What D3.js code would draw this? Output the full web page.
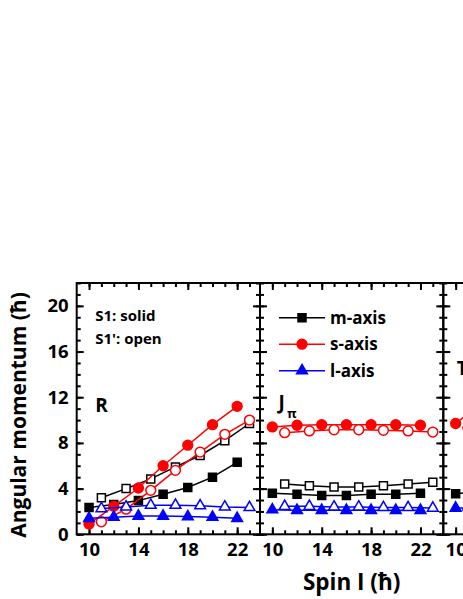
<!DOCTYPE html>
<html>
<head>
<meta charset="utf-8">
<script src="https://cdn.jsdelivr.net/npm/d3@7"></script>
<style>
  body { margin: 0; background: #fff; }
  svg { display: block; font-family: "Open Sans", Lato, sans-serif; font-weight: bold; }
</style>
</head>
<body>
<svg id="chart" width="463" height="599"></svg>
<script>
// spins: solid points sit on even I, open points on odd I
const evenSpins = [10, 12, 14, 16, 18, 20, 22];
const oddSpins = [11, 13, 15, 17, 19, 21, 23];

// panel R
const rMSolid = [2.35, 2.6, 2.95, 3.5, 4.1, 5.0, 6.3];
const rMOpen = [3.2, 4.0, 4.85, 5.9, 6.9, 8.2, 9.7];
const rSSolid = [0.9, 2.45, 4.05, 6.0, 7.8, 9.6, 11.2];
const rSOpen = [1.1, 2.2, 3.85, 5.6, 7.2, 8.75, 10.0];
const rLSolid = [1.4, 1.5, 1.6, 1.6, 1.55, 1.5, 1.4];
const rLOpen = [2.25, 2.4, 2.55, 2.55, 2.5, 2.4, 2.35];

// panel J_pi
const jMSolid = [3.6, 3.5, 3.4, 3.4, 3.5, 3.5, 3.6];
const jMOpen = [4.4, 4.25, 4.15, 4.15, 4.25, 4.4, 4.55];
const jSSolid = [9.4, 9.55, 9.6, 9.6, 9.6, 9.6, 9.55];
const jSOpen = [8.9, 9.05, 9.15, 9.15, 9.1, 9.05, 8.95];
const jLSolid = [2.15, 2.1, 2.1, 2.1, 2.1, 2.1, 2.1];
const jLOpen = [2.45, 2.45, 2.4, 2.4, 2.35, 2.35, 2.3];

// panel T (only its left edge is in view)
const tMSolid = [3.55, 3.8];
const tMOpen = [6.2];
const tSSolid = [9.7, 11.4];
const tSOpen = [9.3];
const tLSolid = [2.3, 2.3];
const tLOpen = [2.4];

const yMajor = [0, 4, 8, 12, 16, 20];
const xMajor = [10, 14, 18, 22];
const legendNames = ["m-axis", "s-axis", "l-axis"];

const svg = d3.select("#chart");

const plotLeft = 76.7, plotTop = 283, panelW = 183.3, panelH = 251.3;

const y = d3.scaleLinear().domain([0, 22]).range([plotTop + panelH, plotTop]);
const yMinor = d3.range(0, 23);
const xMinor = d3.range(10, 24);

const colors = { m: "#000000", s: "#ff0000", l: "#0000ff" };
const shapes = { m: d3.symbolSquare, s: d3.symbolCircle, l: d3.symbolTriangle };
const sizes = { m: 64, s: 76, l: 50 };

const panels = [
  { label: "R", ly: 412, series: { m: [rMSolid, rMOpen], s: [rSSolid, rSOpen], l: [rLSolid, rLOpen] } },
  { label: "J", ly: 409, series: { m: [jMSolid, jMOpen], s: [jSSolid, jSOpen], l: [jLSolid, jLOpen] } },
  { label: "T", ly: 375, series: { m: [tMSolid, tMOpen], s: [tSSolid, tSOpen], l: [tLSolid, tLOpen] } }
];

panels.forEach((p, i) => {
  const x0 = plotLeft + i * panelW;
  const x = d3.scaleLinear().domain([9, 23.85]).range([x0, x0 + panelW]);
  const g = svg.append("g");

  // ticks, all pointing into the panel
  const bottom = g.append("g").attr("transform", `translate(0,${plotTop + panelH})`);
  bottom.call(d3.axisBottom(x).tickValues(xMinor).tickSize(-4).tickFormat(""));
  bottom.append("g").call(d3.axisBottom(x).tickValues(xMajor).tickSize(-7).tickPadding(9));
  const topAx = g.append("g").attr("transform", `translate(0,${plotTop})`);
  topAx.call(d3.axisTop(x).tickValues(xMinor).tickSize(-4).tickFormat(""));
  topAx.append("g").call(d3.axisTop(x).tickValues(xMajor).tickSize(-7).tickFormat(""));
  const leftAx = g.append("g").attr("transform", `translate(${x0},0)`);
  leftAx.call(d3.axisLeft(y).tickValues(yMinor).tickSize(-4).tickFormat(""));
  leftAx.append("g").call(d3.axisLeft(y).tickValues(yMajor).tickSize(-7).tickPadding(8)
    .tickFormat(i === 0 ? d3.format("d") : ""));
  const rightAx = g.append("g").attr("transform", `translate(${x0 + panelW},0)`);
  rightAx.call(d3.axisRight(y).tickValues(yMinor).tickSize(-4).tickFormat(""));
  rightAx.append("g").call(d3.axisRight(y).tickValues(yMajor).tickSize(-7).tickFormat(""));

  g.selectAll(".domain").remove();
  g.selectAll(".tick line").attr("stroke", "#000").attr("stroke-width", 2);
  g.selectAll(".tick text").attr("fill", "#000").style("font-size", "18.5px")
    .style("font-family", "'Open Sans', sans-serif").style("font-weight", "bold");

  g.append("rect")
    .attr("x", x0).attr("y", plotTop).attr("width", panelW).attr("height", panelH)
    .attr("fill", "none").attr("stroke", "#000").attr("stroke-width", 2);

  const line = d3.line().x(d => x(d[0])).y(d => y(d[1]));

  ["m", "s", "l"].forEach(k => {
    const [solid, open] = p.series[k];
    [[solid, evenSpins, colors[k]], [open, oddSpins, "#fff"]].forEach(([vals, spins, fill]) => {
      const pts = vals.map((v, j) => [spins[j], v]);
      g.append("path").datum(pts).attr("d", line)
        .attr("fill", "none").attr("stroke", colors[k]).attr("stroke-width", 1.5);
      g.selectAll(null).data(pts).join("path")
        .attr("transform", d => `translate(${x(d[0])},${y(d[1])})`)
        .attr("d", d3.symbol(shapes[k], sizes[k]))
        .attr("fill", fill).attr("stroke", colors[k]).attr("stroke-width", 1.5);
    });
  });

  // panel label
  g.append("text").attr("x", x0 + (i === 2 ? 13.4 : 18.5))
    .attr("y", p.ly).style("font-size", "19px").text(p.label);
  if (i === 1) {
    g.append("text").attr("x", x0 + 27).attr("y", 418).style("font-size", "13px").text("π");
  }
});

// solid / open note
svg.append("text").attr("x", plotLeft + 18.5).attr("y", 321).style("font-size", "15px").text("S1: solid");
svg.append("text").attr("x", plotLeft + 18.5).attr("y", 343.5).style("font-size", "15px").text("S1': open");

// legend inside the J panel
const lx = plotLeft + panelW + 19;
const legendKeys = ["m", "s", "l"];
const legend = svg.append("g").selectAll("g").data(legendKeys).join("g")
  .attr("transform", (d, i) => `translate(${lx},${317.7 + i * 26.5})`);
legend.append("line").attr("x1", 0).attr("x2", 46)
  .attr("stroke", d => colors[d]).attr("stroke-width", 1.5);
legend.append("path").attr("transform", "translate(23,0)")
  .attr("d", d => d3.symbol(shapes[d], sizes[d])())
  .attr("fill", d => colors[d]).attr("stroke", d => colors[d]).attr("stroke-width", 1.5);
legend.append("text").attr("x", 51).attr("dy", "0.36em").style("font-size", "17px")
  .text((d, i) => legendNames[i]);

// axis titles
svg.append("text").attr("transform", "translate(26,415) rotate(-90)")
  .attr("text-anchor", "middle").style("font-size", "21px").text("Angular momentum (ħ)");
svg.append("text").attr("x", plotLeft + panelW * 1.5).attr("y", 590)
  .attr("text-anchor", "middle").style("font-size", "22.5px").text("Spin I (ħ)");
</script>
</body>
</html>
